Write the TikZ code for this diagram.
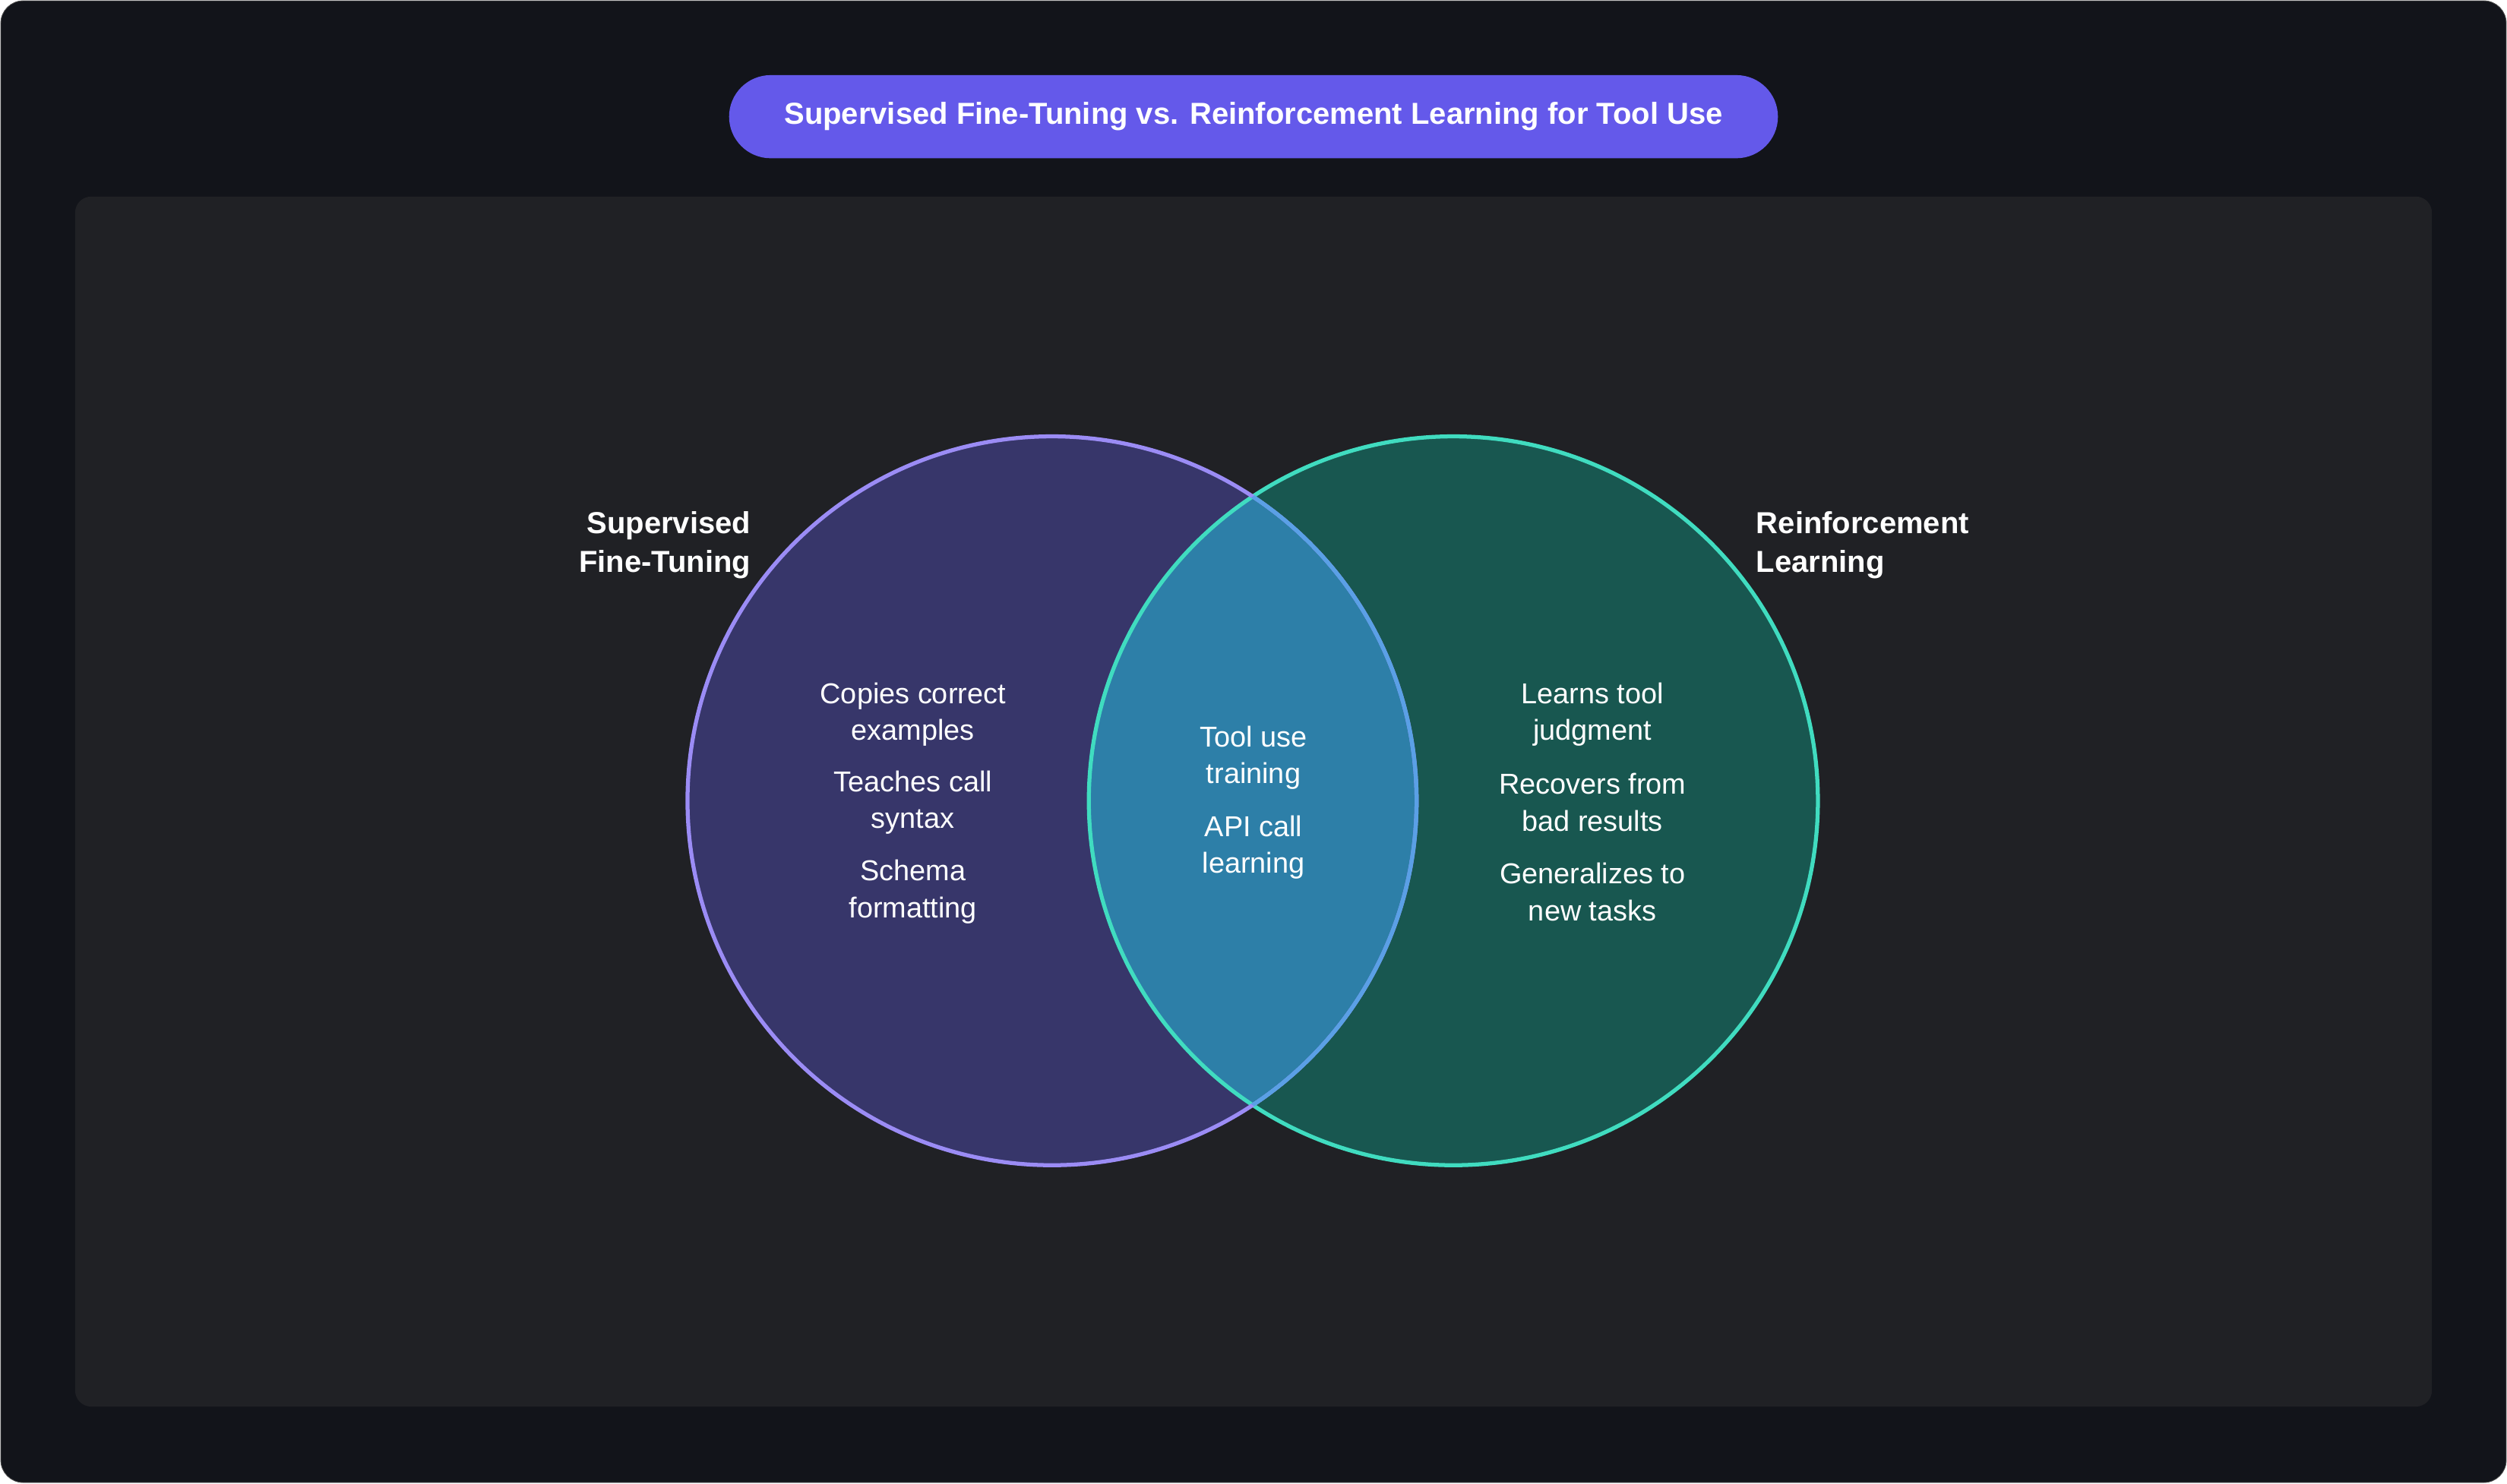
\documentclass[tikz,border=0pt]{standalone}
\usepackage{fontspec}
\setmainfont{Liberation Sans}
\begin{document}
\begin{tikzpicture}[x=1pt,y=-1pt,
  body/.style={text=white,align=center,font=\fontsize{18}{23}\selectfont},
  lab/.style={text=white,font=\fontsize{19}{24}\selectfont\bfseries}]
\definecolor{bg}{HTML}{12141A}
\definecolor{panel}{HTML}{202125}
\definecolor{pill}{HTML}{6459EA}
\definecolor{lfill}{HTML}{37366A}
\definecolor{lstroke}{HTML}{9B8CF5}
\definecolor{rfill}{HTML}{185750}
\definecolor{rstroke}{HTML}{40DCC0}
\definecolor{mid}{HTML}{2D7FA8}
\definecolor{midstroke}{HTML}{5AA0E6}
\useasboundingbox (0,0) rectangle (1568,928);
\draw[fill=bg,draw=gray!60!black,rounded corners=14] (0.5,0.5) rectangle (1567.5,927.5);
\fill[panel,rounded corners=10] (47,123) rectangle (1521,880);
\node[fill=pill,rounded corners=26,minimum width=656,minimum height=52,text=white,font=\fontsize{19}{24}\selectfont\bfseries] (title) at (784,73) {Supervised Fine-Tuning vs. Reinforcement Learning for Tool Use};
\coordinate (L) at (658,501);
\coordinate (R) at (909,501);
\fill[lfill] (L) circle (228);
\fill[rfill] (R) circle (228);
\begin{scope}
\clip (L) circle (228);
\fill[mid] (R) circle (228);
\end{scope}
\draw[rstroke,line width=2.5] (R) circle (228);
\draw[lstroke,line width=2.5] (L) circle (228);
\begin{scope}
\clip (R) circle (228);
\draw[midstroke,line width=2.5] (L) circle (228);
\end{scope}
\node[lab,anchor=east,align=right] (sft) at (473,341) {Supervised\\Fine-Tuning};
\node[lab,anchor=west,align=left] (rl) at (1095,341) {Reinforcement\\Learning};
\node[body] (l1) at (571,447) {Copies correct\\examples};
\node[body] (l2) at (571,502) {Teaches call\\syntax};
\node[body] (l3) at (571,558) {Schema\\formatting};
\node[body] (c1) at (784,474) {Tool use\\training};
\node[body] (c2) at (784,530) {API call\\learning};
\node[body] (r1) at (996,447) {Learns tool\\judgment};
\node[body] (r2) at (996,502) {Recovers from\\bad results};
\node[body] (r3) at (996,558) {Generalizes to\\new tasks};
\end{tikzpicture}
\end{document}
